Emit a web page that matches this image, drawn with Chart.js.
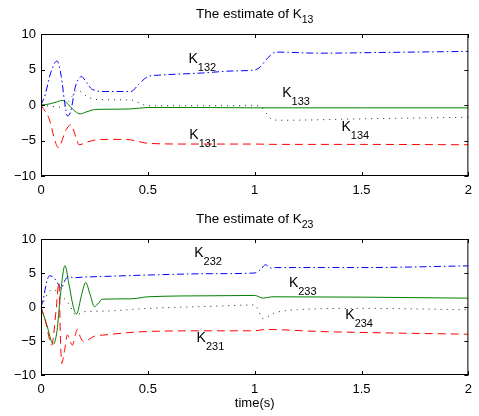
<!DOCTYPE html>
<html>
<head>
<meta charset="utf-8">
<script src="https://cdn.jsdelivr.net/npm/chart.js@4"></script>
<style>
    body { margin: 0; background: #fff; }
    #wrap { position: relative; width: 479px; height: 416px; }
    canvas { position: absolute; left: 0; }
</style>
</head>
<body>
<div id="wrap">
    <canvas id="chartTop" width="479" height="200" style="top:0"></canvas>
    <canvas id="chartBottom" width="479" height="216" style="top:200px"></canvas>
</div>
<script>
const xTicks = [0, 0.5, 1, 1.5, 2];
const yTicks = [-10, -5, 0, 5, 10];

// estimate of K13
const t131 = [0, 0.04, 0.065, 0.081, 0.117, 0.14, 0.163, 0.178, 0.217, 0.278, 0.4, 0.45, 0.5, 0.7, 1.0, 1.1, 1.5, 2.0];
const k131 = [0, -2.1, -5.0, -6.0, -3.5, -2.8, -4.5, -5.6, -5.2, -4.85, -4.85, -5.1, -5.4, -5.5, -5.5, -5.55, -5.55, -5.6];
const t132 = [0, 0.02, 0.045, 0.075, 0.095, 0.11, 0.124, 0.14, 0.16, 0.19, 0.21, 0.24, 0.3, 0.42, 0.46, 0.5, 0.55, 0.75, 0.9, 0.99, 1.02, 1.06, 1.1, 1.3, 1.6, 2.0];
const k132 = [0, 1.5, 4.5, 6.2, 4.0, 0.5, -1.55, -0.8, 2.5, 4.0, 3.3, 2.2, 1.9, 1.9, 3.0, 4.0, 4.2, 4.5, 4.8, 4.9, 5.2, 6.6, 7.45, 7.3, 7.4, 7.55];
const t133 = [0, 0.04, 0.07, 0.1, 0.13, 0.16, 0.183, 0.21, 0.25, 0.3, 0.42, 0.5, 0.7, 1.0, 1.5, 2.0];
const k133 = [0, 0.15, 0.4, 0.65, 0.0, -0.9, -1.25, -1.0, -0.65, -0.6, -0.55, -0.35, -0.35, -0.4, -0.4, -0.4];
const t134 = [0, 0.05, 0.1, 0.13, 0.17, 0.21, 0.25, 0.3, 0.42, 0.5, 0.7, 1.0, 1.03, 1.08, 1.12, 1.5, 2.0];
const k134 = [0, -0.2, -0.3, 0.5, 2.1, 1.3, 0.8, 0.75, 0.7, -0.1, -0.1, -0.1, -0.3, -2.0, -2.15, -1.95, -1.72];

// estimate of K23
const t231 = [0, 0.025, 0.04, 0.05, 0.07, 0.084, 0.091, 0.097, 0.109, 0.124, 0.137, 0.147, 0.16, 0.17, 0.185, 0.2, 0.25, 0.3, 0.5, 0.8, 1.0, 1.05, 1.3, 1.6, 2.0];
const k231 = [0, -2.6, -4.8, -5.6, -0.7, 3.6, -4.6, -8.3, -6.6, -4.1, -5.1, -5.6, -4.2, -3.3, -4.5, -5.1, -4.3, -4.1, -3.6, -3.5, -3.5, -3.3, -3.6, -3.8, -4.0];
const t232 = [0, 0.01, 0.025, 0.04, 0.06, 0.08, 0.095, 0.11, 0.13, 0.15, 0.2, 0.3, 0.5, 0.8, 1.0, 1.03, 1.05, 1.08, 1.1, 1.5, 2.0];
const k232 = [0, 1.0, 3.5, 4.6, 4.3, 3.4, 2.7, 3.8, 4.5, 4.3, 4.4, 4.5, 4.7, 4.9, 5.0, 5.6, 6.2, 5.7, 5.8, 5.8, 6.05];
const t233 = [0, 0.025, 0.058, 0.075, 0.09, 0.112, 0.13, 0.15, 0.166, 0.19, 0.209, 0.23, 0.25, 0.27, 0.286, 0.42, 0.5, 0.8, 1.0, 1.04, 1.08, 1.5, 2.0];
const k233 = [0, -2.4, -5.45, -3.5, 1.5, 6.07, 3.5, 0.2, -1.03, 1.8, 3.6, 1.8, 0.05, 0.6, 1.15, 1.2, 1.5, 1.65, 1.7, 1.3, 1.5, 1.45, 1.3];
const t234 = [0, 0.04, 0.06, 0.1, 0.13, 0.163, 0.2, 0.3, 0.5, 0.8, 1.0, 1.04, 1.09, 1.2, 1.5, 2.0];
const k234 = [0, 2.3, 2.5, 1.5, 0.5, -1.2, -0.7, -0.6, -0.2, 0.1, 0.3, -1.7, -0.9, -0.4, -0.2, -0.4];

Chart.defaults.font.family = '"Liberation Sans", Arial, Helvetica, sans-serif';
Chart.defaults.color = '#000';

function pts(t, v) {
    return t.map((x, i) => ({ x: x, y: v[i] }));
}

function line(t, v, color, dash) {
    return {
        data: pts(t, v),
        borderColor: color,
        borderWidth: 1,
        borderDash: dash,
        pointRadius: 0,
        fill: false,
        cubicInterpolationMode: 'monotone'
    };
}

const decor = {
    id: 'decor',
    afterDraw(chart, args, o) {
        const { ctx, chartArea: a, scales: { x, y } } = chart;
        ctx.save();
        ctx.strokeStyle = '#000';
        ctx.lineWidth = 1;
        ctx.strokeRect(a.left + 0.5, a.top + 0.5, a.right - a.left - 1, a.bottom - a.top - 1);
        ctx.beginPath();
        y.ticks.forEach(t => {
            const py = Math.round(y.getPixelForValue(t.value)) + 0.5;
            ctx.moveTo(a.left, py); ctx.lineTo(a.left + 4, py);
            ctx.moveTo(a.right, py); ctx.lineTo(a.right - 4, py);
        });
        x.ticks.forEach(t => {
            const px = Math.round(x.getPixelForValue(t.value)) + 0.5;
            ctx.moveTo(px, a.bottom); ctx.lineTo(px, a.bottom - 4);
            ctx.moveTo(px, a.top); ctx.lineTo(px, a.top + 4);
        });
        ctx.stroke();

        // title with subscript
        ctx.fillStyle = '#000';
        ctx.textBaseline = 'alphabetic';
        ctx.textAlign = 'left';
        ctx.font = '13.5px ' + Chart.defaults.font.family;
        const w1 = ctx.measureText(o.title).width;
        ctx.font = '10.5px ' + Chart.defaults.font.family;
        const w2 = ctx.measureText(o.sub).width;
        let tx = (a.left + a.right) / 2 - (w1 + w2) / 2;
        ctx.font = '13.5px ' + Chart.defaults.font.family;
        ctx.fillText(o.title, tx, o.titleY);
        ctx.font = '10.5px ' + Chart.defaults.font.family;
        ctx.fillText(o.sub, tx + w1, o.titleY + 5);

        // curve labels
        o.labels.forEach(l => {
            const px = x.getPixelForValue(l.x);
            const py = y.getPixelForValue(l.y);
            ctx.font = '14px ' + Chart.defaults.font.family;
            ctx.fillText('K', px, py);
            const kw = ctx.measureText('K').width;
            ctx.font = '11px ' + Chart.defaults.font.family;
            ctx.fillText(l.sub, px + kw, py + 8);
        });

        if (o.xTitle) {
            ctx.font = '13px ' + Chart.defaults.font.family;
            ctx.textAlign = 'center';
            ctx.fillText(o.xTitle, (a.left + a.right) / 2, o.xTitleY);
        }
        ctx.restore();
    }
};

function makeChart(id, series, opts) {
    const ctx = document.getElementById(id).getContext('2d');
    return new Chart(ctx, {
        type: 'line',
        data: { datasets: series },
        options: {
            responsive: false,
            animation: false,
            events: [],
            layout: { padding: { top: opts.top, right: 4, left: 0, bottom: 0 } },
            plugins: {
                legend: { display: false },
                tooltip: { enabled: false },
                decor: opts
            },
            scales: {
                x: {
                    type: 'linear',
                    min: 0, max: 2,
                    afterBuildTicks: s => { s.ticks = xTicks.map(v => ({ value: v })); },
                    afterFit: s => { s.height = opts.xHeight; },
                    grid: { display: false, drawTicks: false },
                    border: { display: false },
                    ticks: {
                        font: { size: 13 },
                        padding: 7,
                        maxRotation: 0,
                        callback: v => String(v)
                    }
                },
                y: {
                    type: 'linear',
                    min: -10, max: 10,
                    afterBuildTicks: s => { s.ticks = yTicks.map(v => ({ value: v })); },
                    afterFit: s => { s.width = 41; },
                    grid: { display: false, drawTicks: false },
                    border: { display: false },
                    ticks: {
                        font: { size: 13 },
                        padding: 5,
                        callback: v => String(v).replace('-', '\u2212')
                    }
                }
            }
        },
        plugins: [decor]
    });
}

makeChart('chartTop', [
    line(t131, k131, '#ff0000', [8, 5]),
    line(t132, k132, '#0000ff', [7, 3, 1.5, 3]),
    line(t133, k133, '#008000', []),
    line(t134, k134, '#222222', [1, 5])
], {
    top: 34, xHeight: 24,
    title: 'The estimate of K', sub: '13', titleY: 17.5,
    labels: [
        { x: 0.690, y: 5.87, sub: '132' },
        { x: 1.129, y: 1.08, sub: '133' },
        { x: 1.406, y: -3.62, sub: '134' },
        { x: 0.694, y: -4.83, sub: '131' }
    ]
});

makeChart('chartBottom', [
    line(t231, k231, '#ff0000', [8, 5]),
    line(t232, k232, '#0000ff', [7, 3, 1.5, 3]),
    line(t233, k233, '#008000', []),
    line(t234, k234, '#222222', [1, 5])
], {
    top: 39, xHeight: 41,
    title: 'The estimate of K', sub: '23', titleY: 23.3,
    xTitle: 'time(s)', xTitleY: 207,
    labels: [
        { x: 0.717, y: 7.40, sub: '232' },
        { x: 1.160, y: 2.99, sub: '233' },
        { x: 1.424, y: -1.72, sub: '234' },
        { x: 0.728, y: -5.15, sub: '231' }
    ]
});
</script>
</body>
</html>
